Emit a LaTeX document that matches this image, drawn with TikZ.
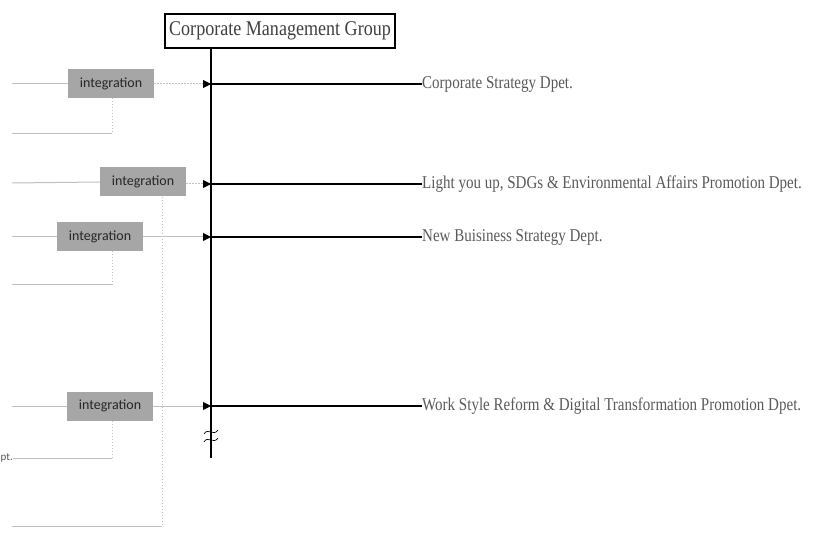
\documentclass[tikz,border=0pt]{standalone}
\usepackage{fontspec}
\usetikzlibrary{arrows.meta}
\newfontfamily\deptfont[FakeStretch=0.835]{Liberation Serif}
\newfontfamily\titlefont[FakeStretch=0.86]{Liberation Serif}
\newfontfamily\boxfont{Carlito}
\definecolor{linegray}{HTML}{BFBFBF}
\definecolor{boxgray}{HTML}{A6A6A6}
\definecolor{textgray}{HTML}{595959}
\tikzset{
  intbox/.style={fill=boxgray,minimum width=86pt,minimum height=29pt,inner sep=0pt,
    font=\boxfont\fontsize{14}{16}\selectfont,text=black!85},
  dept/.style={anchor=west,inner sep=0pt,font=\deptfont\fontsize{18}{20}\selectfont,text=textgray},
  feed/.style={linegray,line width=1pt},
  link/.style={feed,-{Triangle[black,length=8pt,width=8pt]}},
  trunk/.style={black,line width=1.6pt}
}
\begin{document}
\begin{tikzpicture}[x=1pt,y=-1pt]
\useasboundingbox (0,0) rectangle (817,556);

\node [draw,line width=1.2pt,minimum width=230pt,minimum height=34pt,inner sep=0pt,
  font=\titlefont\fontsize{21}{23}\selectfont,text=black!75] (cmg) at (280,31) {Corporate Management Group};

\node [intbox] (intA) at (111,84) {integration};
\node [intbox] (intB) at (143,182) {integration};
\node [intbox] (intC) at (100,237) {integration};
\node [intbox] (intD) at (110,406) {integration};

\node [dept] (deptA) at (422,84) {Corporate Strategy Dpet.};
\node [dept] (deptB) at (422,184) {Light you up, SDGs \& Environmental Affairs Promotion Dpet.};
\node [dept] (deptC) at (422,237) {New Buisiness Strategy Dept.};
\node [dept] (deptD) at (422,406) {Work Style Reform \& Digital Transformation Promotion Dpet.};

\node [anchor=east,inner sep=0pt,font=\boxfont\fontsize{11}{13}\selectfont,text=textgray] (tail) at (13,458) {pt.};

\coordinate (top) at (211,48);
\coordinate (bottom) at (211,458);
\coordinate (jA) at (211,84);
\coordinate (jB) at (211,184);
\coordinate (jC) at (211,237);
\coordinate (jD) at (211,406);

\draw [trunk] (top) -- (bottom);
\draw [trunk] (jA) -- (deptA.west);
\draw [trunk] (jB) -- (deptB.west);
\draw [trunk] (jC) -- (deptC.west);
\draw [trunk] (jD) -- (deptD.west);

\draw [link,dash pattern=on 2pt off 1pt] (intA.east) -- (jA);
\draw [link,dash pattern=on 2pt off 1pt] (intB.east |- jB) -- (jB);
\draw [link] (intC.east) -- (jC);
\draw [link] (intD.east) -- (jD);

\draw [feed] (12,84) -- (intA.west);
\draw [feed] (12,183) -- (intB.west);
\draw [feed] (12,237) -- (intC.west);
\draw [feed] (12,406) -- (intD.west);

\draw [feed,dotted] (112,98) -- (112,134);
\draw [feed] (112,134) -- (12,134);
\draw [feed,dotted] (112,251) -- (112,285);
\draw [feed] (112,285) -- (12,285);
\draw [feed,dotted] (112,421) -- (112,458);
\draw [feed] (112,458) -- (tail.east);
\draw [feed,dotted] (162,197) -- (162,526);
\draw [feed] (162,526) -- (12,526);

\draw [black,line width=0.7pt] (204,434) .. controls (208,427) and (213,437) .. (218,430);
\draw [black,line width=0.7pt] (204,442) .. controls (208,435) and (213,445) .. (218,438);
\end{tikzpicture}
\end{document}
